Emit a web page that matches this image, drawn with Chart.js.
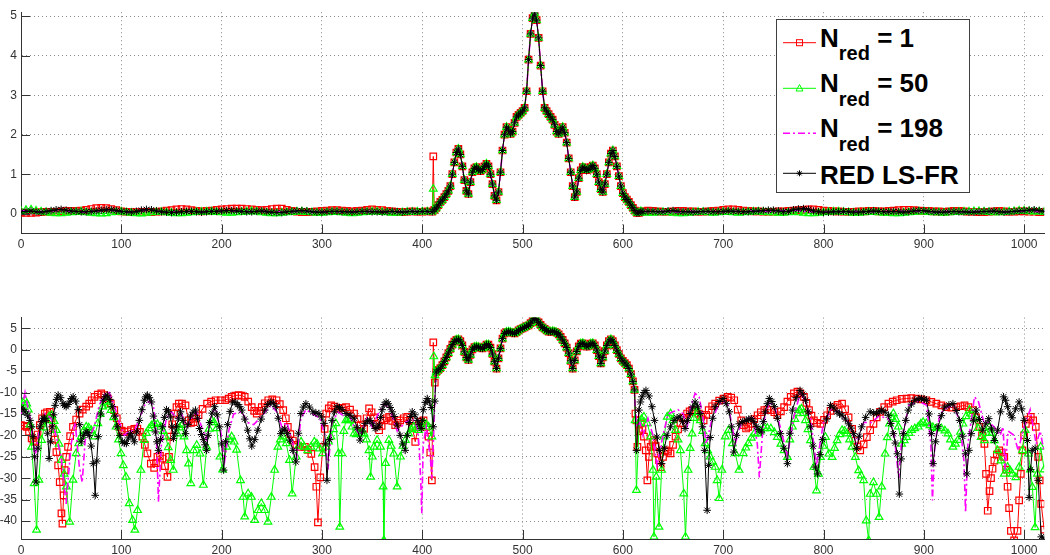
<!DOCTYPE html>
<html><head><meta charset="utf-8">
<script src="https://cdn.jsdelivr.net/npm/chart.js@4.4.1/dist/chart.umd.min.js"></script>
<style>
html,body{margin:0;padding:0;background:#fff;width:1050px;height:555px;overflow:hidden;}
#c1{position:absolute;left:0;top:0;}
#c2{position:absolute;left:0;top:300px;}
#leg{position:absolute;left:0;top:0;}
</style></head><body>
<canvas id="c1" width="1050" height="260"></canvas>
<canvas id="c2" width="1050" height="255"></canvas>
<svg id="leg" width="1050" height="260" xmlns="http://www.w3.org/2000/svg">
  <rect x="776.5" y="19.5" width="193" height="173" fill="#fff" stroke="#404040" stroke-width="1"/>
  <g font-family="'Liberation Sans', Arial, sans-serif" font-weight="bold" font-size="26" fill="#000" style="white-space:pre">
    <line x1="783" y1="42.7" x2="816" y2="42.7" stroke="#ff0000" stroke-width="1"/>
    <rect x="796.5" y="39.7" width="6" height="6" fill="none" stroke="#ff0000" stroke-width="1"/>
    <text x="820" y="46.7">N<tspan font-size="20" dy="13.3">red</tspan><tspan dy="-13.3"> = 1</tspan></text>
    <line x1="783" y1="88.3" x2="816" y2="88.3" stroke="#00ff00" stroke-width="1"/>
    <polygon points="799.5,84.5 803,91 796,91" fill="none" stroke="#00ff00" stroke-width="1"/>
    <text x="820" y="92.3">N<tspan font-size="20" dy="13.3">red</tspan><tspan dy="-13.3"> = 50</tspan></text>
    <line x1="783" y1="133.3" x2="816" y2="133.3" stroke="#ff00ff" stroke-width="1.5" stroke-dasharray="7,3,2,3"/>
    <text x="820" y="137.3">N<tspan font-size="20" dy="13.3">red</tspan><tspan dy="-13.3"> = 198</tspan></text>
    <line x1="783" y1="173.3" x2="816" y2="173.3" stroke="#000" stroke-width="1"/>
    <path d="M799.5 170.3 V176.3 M796.5 173.3 H802.5 M797.4 171.2 L801.6 175.4 M801.6 171.2 L797.4 175.4" stroke="#000" stroke-width="1"/>
    <text x="820" y="184">RED LS-FR</text>
  </g>
</svg>
<script>
// ---------- tick labels ----------
const xTicks = [0, 100, 200, 300, 400, 500, 600, 700, 800, 900, 1000];
const topYTicks = [0, 1, 2, 3, 4, 5];
const botYTicks = [-40, -35, -30, -25, -20, -15, -10, -5, 0, 5];

// ---------- top plot (linear magnitude) ----------
const topLeftX5 = [0,5,10,15,20,25,30,35,40,45, 50,55,60,65,70,75,80,85,90,95, 100,105,110,115,120,125,130,135,140,145, 150,155,160,165,170,175,180,185,190,195, 200,205,210,215,220,225,230,235,240,245, 250,255,260,265,270,275,280,285,290,295, 300,305,310,315,320,325,330,335,340,345, 350,355,360,365,370,375,380,385,390,395, 400,405];
const topRightX5 = [620,625,630,635,640,645,650,655,660,665, 670,675,680,685,690,695,700,705,710,715, 720,725,730,735,740,745,750,755,760,765, 770,775,780,785,790,795,800,805,810,815, 820,825,830,835,840,845,850,855,860,865, 870,875,880,885,890,895,900,905,910,915, 920,925,930,935,940,945,950,955,960,965, 970,975,980,985,990,995,1000,1005,1010,1015, 1020];
const topLeftX10 = [0,10,20,30,40,50,60,70,80,90,100,110,120,130,140,150,160,170,180,190,200,210,220,230,240,250,260,270,280,290,300,310,320,330,340,350,360,370,380,390,400];
const topRightX10 = [620,630,640,650,660,670,680,690,700,710,720,730,740,750,760,770,780,790,800,810,820,830,840,850,860,870,880,890,900,910,920,930,940,950,960,970,980,990,1000,1010,1020];

const redTopL = [0.03,0.02,0.02,0.03,0.04,0.05,0.05,0.05,0.06,0.07, 0.07,0.07,0.08,0.10,0.12,0.14,0.15,0.14,0.12,0.09, 0.06,0.05,0.04,0.04,0.05,0.05,0.04,0.05,0.06,0.08, 0.09,0.11,0.12,0.11,0.09,0.07,0.06,0.07,0.08,0.10, 0.11,0.12,0.13,0.13,0.13,0.12,0.11,0.10,0.09,0.10, 0.12,0.13,0.13,0.10,0.07,0.05,0.04,0.04,0.05,0.06, 0.07,0.08,0.09,0.09,0.08,0.07,0.06,0.07,0.08,0.10, 0.11,0.10,0.09,0.07,0.06,0.05,0.04,0.05,0.06,0.05, 0.05,0.06];
const greenTopL = [0.06,0.09,0.10,0.07,0.05,0.03,0.02,0.01,0.01,0.02, 0.03,0.04,0.05,0.03,0.02,0.01,0.00,0.01,0.03,0.04, 0.05,0.03,0.02,0.01,0.00,0.02,0.03,0.04,0.04,0.03, 0.02,0.01,0.01,0.02,0.03,0.04,0.04,0.05,0.05,0.04, 0.03,0.02,0.02,0.03,0.04,0.05,0.06,0.05,0.03,0.02, 0.01,0.01,0.02,0.03,0.04,0.05,0.05,0.04,0.03,0.02, 0.02,0.03,0.04,0.04,0.03,0.02,0.01,0.02,0.03,0.04, 0.05,0.05,0.04,0.03,0.02,0.02,0.03,0.04,0.04,0.05, 0.05,0.05];
const blackTopL = [0.05,0.06,0.07,0.05,0.04,0.06,0.08,0.10,0.11,0.09, 0.07,0.06,0.05,0.05,0.06,0.07,0.09,0.10,0.10,0.08, 0.06,0.05,0.04,0.06,0.09,0.11,0.10,0.07,0.05,0.04, 0.03,0.04,0.05,0.06,0.06,0.05,0.04,0.05,0.06,0.06, 0.07,0.08,0.08,0.07,0.06,0.05,0.05,0.06,0.07,0.05, 0.04,0.03,0.03,0.05,0.06,0.07,0.08,0.07,0.05,0.04, 0.04,0.05,0.06,0.06,0.05,0.05,0.04,0.05,0.06,0.06, 0.05,0.05,0.04,0.05,0.06,0.05,0.04,0.05,0.06,0.05, 0.06,0.06];
const magTopL = [0.08,0.06,0.04,0.07,0.09,0.06,0.04,0.05,0.08,0.09,0.05,0.04,0.08,0.09,0.05,0.04,0.05,0.06,0.05,0.06,0.06,0.07,0.06,0.05,0.06,0.05,0.04,0.05,0.07,0.05,0.04,0.05,0.05,0.04,0.05,0.06,0.05,0.05,0.05,0.06,0.05];

const redTopR = [0.06,0.08,0.07,0.06,0.05,0.05,0.06,0.07,0.07,0.06, 0.06,0.05,0.05,0.06,0.07,0.08,0.10,0.11,0.11,0.10, 0.08,0.07,0.06,0.06,0.05,0.05,0.05,0.06,0.06,0.07, 0.08,0.09,0.10,0.11,0.11,0.10,0.08,0.07,0.06,0.06, 0.05,0.05,0.05,0.06,0.06,0.07,0.07,0.06,0.06,0.07, 0.08,0.09,0.10,0.10,0.09,0.08,0.07,0.07,0.06,0.06, 0.05,0.06,0.07,0.07,0.06,0.05,0.05,0.04,0.04,0.05, 0.06,0.07,0.06,0.05,0.05,0.06,0.06,0.05,0.05,0.04, 0.04];
const greenTopR = [0.03,0.02,0.02,0.03,0.04,0.03,0.02,0.01,0.01,0.02, 0.03,0.04,0.04,0.03,0.02,0.03,0.04,0.04,0.03,0.02, 0.03,0.04,0.05,0.05,0.04,0.03,0.03,0.02,0.02,0.03, 0.04,0.03,0.02,0.01,0.01,0.02,0.03,0.04,0.05,0.05, 0.04,0.03,0.02,0.02,0.03,0.04,0.04,0.03,0.02,0.02, 0.01,0.01,0.02,0.03,0.04,0.05,0.05,0.04,0.03,0.03, 0.02,0.03,0.04,0.04,0.05,0.05,0.06,0.06,0.05,0.04, 0.03,0.03,0.04,0.05,0.06,0.07,0.07,0.06,0.05,0.05, 0.04];
const blackTopR = [0.05,0.06,0.06,0.05,0.05,0.07,0.08,0.06,0.05,0.05, 0.04,0.05,0.06,0.06,0.05,0.05,0.06,0.07,0.06,0.06, 0.05,0.05,0.06,0.07,0.08,0.09,0.09,0.07,0.05,0.06, 0.10,0.12,0.13,0.11,0.07,0.05,0.04,0.04,0.05,0.05, 0.06,0.05,0.04,0.04,0.05,0.06,0.07,0.06,0.05,0.05, 0.06,0.05,0.04,0.05,0.07,0.08,0.08,0.06,0.05,0.04, 0.04,0.05,0.06,0.05,0.05,0.04,0.04,0.05,0.06,0.06, 0.07,0.05,0.04,0.05,0.06,0.07,0.08,0.09,0.10,0.08, 0.06];
const magTopR = [0.06,0.05,0.06,0.04,0.05,0.06,0.05,0.06,0.05,0.06,0.05,0.07,0.06,0.05,0.08,0.1,0.06,0.05,0.05,0.06,0.05,0.06,0.05,0.05,0.06,0.05,0.06,0.07,0.05,0.05,0.06,0.05,0.05,0.06,0.05,0.06,0.05,0.06,0.07,0.06,0.05];

// main lobe (identical for all four curves), x = 410 ... 618
const topCenterX = [410,412,414,416,418,420,422,424,426,428, 430,432,434,436,438,440,442,444,446,448, 450,452,454,456,458,460,462,464,466,468, 470,472,474,476,478,480,482,484,486,488, 490,492,494,496,498,500,502,504,506,508, 510,512,514,516,518,520,522,524,526,528, 530,532,534,536,538,540,542,544,546,548, 550,552,554,556,558,560,562,564,566,568, 570,572,574,576,578,580,582,584,586,588, 590,592,594,596,598,600,602,604,606,608, 610,612,614,616,618];
const topCenterY = [0.05,0.10,0.15,0.22,0.30,0.35,0.42,0.50,0.58,0.70, 1.00,1.30,1.55,1.64,1.50,1.20,0.85,0.58,0.50,0.80, 1.05,1.15,1.18,1.12,1.08,1.12,1.20,1.26,1.20,1.00, 0.75,0.45,0.34,0.55,1.05,1.60,2.00,2.19,2.12,2.02, 2.08,2.30,2.45,2.50,2.55,2.60,2.68,3.10,3.90,4.55, 4.95,5.08,4.90,4.45,3.75,3.10,2.68,2.60,2.52,2.45, 2.38,2.25,2.08,2.02,2.12,2.19,2.05,1.80,1.40,1.05, 0.70,0.42,0.55,0.90,1.10,1.18,1.15,1.10,1.12,1.18, 1.22,1.15,1.00,0.80,0.62,0.55,0.75,1.00,1.30,1.52, 1.60,1.45,1.20,0.95,0.70,0.52,0.42,0.36,0.30,0.22, 0.15,0.08,0.02,0.02,0.06];
const redTopSpike   = [[411, 1.45]];
const greenTopSpike = [[411, 0.63]];

// ---------- bottom plot (dB) ----------
const botCenter = [[414,-5.2],[416,-4.7],[418,-4.3],[420,-3.6],[422,-2.7],[424,-1.8],[426,-0.8],[428,0.2],[430,1.2],[432,1.9],
  [434,2.3],[436,2.4],[438,2.0],[440,1.0],[442,-0.5],[444,-1.8],[446,-2.4],[448,-1.2],[450,0.1],[452,0.6],
  [454,0.7],[456,0.6],[458,0.4],[460,0.3],[462,0.7],[464,1.2],[466,1.2],[468,0.5],[470,-1.0],[472,-2.8],
  [474,-4.4],[476,-2.0],[478,0.3],[480,2.6],[482,3.8],[484,4.1],[486,4.2],[488,4.1],[490,3.9],[492,3.8],
  [494,4.1],[496,4.5],[498,4.8],[500,5.0],[502,5.2],[504,5.5],[506,5.7],[508,6.2],[510,6.9],[512,7.3],
  [514,7.0],[516,6.4],[518,5.8],[520,5.2],[522,4.9],[524,4.5],[526,4.2],[528,4.2],[530,4.3],[532,4.2],
  [534,4.0],[536,3.6],[538,3.0],[540,2.3],[542,1.5],[544,0.5],[546,-0.8],[548,-2.6],[550,-4.4],[552,-2.5],
  [554,-0.4],[556,0.8],[558,1.4],[560,1.5],[562,1.2],[564,0.7],[566,0.9],[568,1.4],[570,1.5],[572,1.0],
  [574,-0.1],[576,-1.5],[578,-3.2],[580,-1.8],[582,-0.3],[584,1.0],[586,2.0],[588,2.4],[590,2.0],[592,1.0],
  [594,-0.1],[596,-1.0],[598,-2.0],[600,-2.6],[602,-3.1],[604,-3.6],[606,-4.4],[608,-5.7],[610,-7.4],[611.6,-9.4]];

const redBot = [[0,-17.6],[3,-17.8],[5.6,-18],[8,-19.2],[10.6,-20.7],[12.5,-21.3],[14.5,-21.5],[16.5,-19.8],[18.8,-17.6],[21,-16],[23.8,-14.9],[26,-14.6],[28.7,-14.5],[30.5,-16],[32,-18.4],[33.8,-21],[35.3,-23.9],[37,-27],[38.6,-30.9],[40.3,-38.2],[41.3,-40.6],[42.5,-34],[43.6,-28.1],[45,-25],[46.9,-22.7],[49,-20.2],[51.8,-18],[55,-16.3],[58.4,-14.9],[61.5,-14],[65,-13.3],[68,-12.6],[70.5,-11.8],[73.3,-11],[76.5,-10.5],[80,-10.2],[83,-10.6],[86.5,-11.4],[89.5,-12.6],[93,-14.1],[95.5,-16],[98,-18],[100.5,-18.9],[103,-19.2],[106,-19.1],[109.6,-18.8],[113,-18.5],[116,-18.4],[118.5,-19.2],[121,-20.3],[123.5,-22.2],[126,-24.2],[129.4,-26.6],[132.7,-27.6],[134.5,-26.5],[136,-25],[138.5,-24.8],[141,-25.4],[143.5,-27.2],[146,-29.7],[147.5,-25],[149,-20.3],[150.8,-17.4],[152.5,-14.9],[155,-13.4],[157.4,-12.6],[160.5,-12.6],[164,-13],[167,-16.5],[169.5,-17.1],[172,-16.9],[174.5,-16.1],[177,-15.3],[181,-13.8],[185.5,-12.6],[189.5,-12.1],[194,-11.8],[199,-11.8],[203.6,-11.8],[207,-11.4],[210,-11],[213.5,-10.7],[217,-10.6],[220,-10.7],[223,-11],[226.5,-12.1],[230,-13.4],[232.5,-14.3],[235,-14.9],[237.5,-14.3],[240,-13.4],[243,-12.5],[246.5,-11.8],[250.5,-11.6],[254.8,-11.8],[258,-12.7],[261.4,-14.1],[264,-16],[266,-18],[268.5,-19.7],[271,-21.2],[274.5,-22.2],[278,-22.7],[283,-22.7],[286,-23.4],[289.4,-24.3],[292.7,-27.4],[294.4,-32],[296,-40.3],[298.3,-29.8],[301,-22.7],[302.7,-18.5],[304.3,-14.9],[306.8,-13.7],[309.2,-13],[312.5,-13.3],[315.8,-13.8],[320,-13.6],[324,-13.4],[328,-14],[332,-14.9],[335.5,-16.2],[338.6,-17.6],[342,-18.5],[344.5,-16],[347,-13.7],[349.5,-14.6],[352,-15.8],[354.5,-17.4],[357,-18.8],[359.5,-17.8],[362,-16.5],[364.5,-16],[367,-15.7],[370,-16.6],[373,-17.6],[375.5,-17.1],[378,-16.5],[381.5,-16],[385,-15.7],[387.5,-16.6],[390,-18],[393,-21.5],[396.4,-17.6],[398.8,-16.8],[401.3,-16.5],[404,-18],[406.3,-20.3],[408,-24],[409.6,-30.5],[411,1.7],[412.5,-7.7],
  [612.5,-14.9],[613.5,-16.5],[614.5,-22.7],[616,-19],[617.8,-17.2],[619.5,-18.5],[621,-20.3],[622.8,-23.5],[624.4,-30.5],[626,-25],[627.7,-22.7],[629.5,-21.5],[631,-21.1],[632.7,-22.5],[634.3,-24.2],[636,-25.8],[637.6,-27.4],[640,-25],[642.6,-23.5],[645,-23.8],[647.5,-24.2],[650,-22.2],[652.5,-20.3],[655,-18.6],[657.4,-17.2],[660.5,-15.9],[664,-14.9],[666.5,-14.4],[669,-14.1],[672.3,-14.3],[675.6,-14.9],[678,-15.6],[680.5,-16.5],[683,-15.2],[685.5,-14.1],[689,-13.2],[692,-12.6],[696,-11.9],[700.3,-11.4],[704.6,-11],[708,-11.2],[711,-11.8],[714.5,-14],[718,-16.5],[720.5,-17.6],[722.8,-18.4],[725,-18],[727.7,-17.3],[731,-16.2],[734.3,-15.3],[737.5,-14.6],[741,-14.1],[744,-14],[747.5,-14.1],[751,-14.6],[754,-15.3],[757.5,-14.4],[760.7,-13.4],[764,-12.1],[767.3,-11],[770.5,-10.2],[774,-9.8],[777,-10.2],[780.5,-11],[783,-12.4],[785.5,-14.1],[788,-15.4],[790.4,-16.5],[793.5,-17.1],[797,-17.3],[800.5,-16.4],[803.6,-15.3],[807,-14.3],[810.2,-13.4],[814,-12.9],[818.5,-12.6],[821.5,-13.9],[825,-15.8],[828.5,-18.5],[831.7,-21.2],[834,-22.6],[836.6,-23.5],[840,-22.1],[843.2,-20.4],[846.5,-18.8],[849.8,-17.3],[853,-15.8],[856.4,-14.5],[860.5,-13.4],[864.7,-12.6],[869,-12.1],[873,-11.8],[878,-11.5],[882.8,-11.4],[887.5,-11.3],[892.7,-11.4],[897.5,-11.6],[902.6,-11.8],[907.5,-12.2],[912.5,-12.6],[917.5,-13],[922.4,-13.4],[927.5,-13.5],[932.3,-13.4],[936.5,-13.2],[940.6,-13],[944.5,-13.4],[948.8,-14.1],[952,-15.8],[955.4,-18],[958,-20],[960.4,-22],[962,-29],[963.7,-37.6],[965.5,-33],[967,-30],[968.5,-27.8],[970.3,-25.9],[972.8,-24.5],[975.2,-23.5],[977.7,-24],[980.2,-25],[982,-28],[983.5,-32],[985,-37],[986.8,-42.3],[990,-44.5],[993.4,-42.3],[995,-35.2],[996.7,-29],[998.3,-23.5],[1000,-20],[1001.7,-17.3],[1004,-16.3],[1006.6,-15.7],[1009,-16.5],[1011.6,-18],[1013.9,-25],[1015.5,-30.5],[1017,-36],[1020,-42]];

const greenBot = [[0,-13.3],[2,-12.3],[4,-11.8],[5.7,-12.6],[7.3,-14],[9,-17.5],[10.6,-22.7],[13.2,-31.2],[15.5,-42.1],[17.8,-30.4],[20.5,-21.1],[23,-18.2],[25.4,-16.5],[28,-15.6],[30.4,-15.3],[33,-16.7],[35.3,-18.8],[38,-22],[40.3,-25.8],[43,-29],[45.2,-32],[48.5,-40.2],[51.8,-30.4],[55,-24.2],[57.5,-21.9],[60,-20.3],[62.5,-18.9],[65,-18],[67.5,-18.2],[70,-18.8],[73.3,-20.3],[76.6,-17.2],[79,-15],[81.5,-13.3],[84.8,-12.2],[87.3,-12.9],[89.8,-14.1],[92.3,-15.8],[94.7,-18],[97.2,-21],[99.7,-24.2],[102,-27],[104.6,-29.7],[107.9,-35.9],[111.2,-39.8],[113.5,-42.1],[116.2,-37.5],[119.5,-28.1],[122.8,-21.1],[125,-19.5],[127.7,-18.4],[130,-17.7],[132.7,-17.2],[136,-17.4],[139.3,-18],[141.8,-19],[144.2,-20.3],[146.8,-22.8],[149.2,-25.8],[151.8,-28.1],[155.8,-19.6],[158,-18.2],[160.7,-17.6],[162.5,-20.3],[165,-23.5],[167,-26.6],[169.3,-31.2],[172,-23.5],[175.2,-22.3],[178.5,-24.3],[181.8,-31.6],[185,-22.7],[187.5,-18.5],[190,-16.5],[192.5,-17],[195,-18.4],[198.3,-25],[201,-28],[205,-22.7],[207.5,-21],[210,-20.3],[212.5,-21.5],[214.9,-23.4],[218.8,-30.5],[221.5,-34.4],[223,-39],[226.4,-33.6],[229.7,-34.4],[233,-39.8],[236.3,-37.5],[239.6,-35.9],[242.9,-37.5],[246.2,-40.2],[249.5,-34.4],[252.8,-28.1],[256.1,-22.7],[258.5,-21],[261,-20.3],[264.4,-21.9],[267.7,-25.8],[270.3,-33.6],[274.3,-25],[276.8,-22.5],[279.2,-21.5],[282.5,-22.7],[285.8,-23.5],[289.1,-22.7],[292.4,-21.5],[295,-22],[297.4,-23.1],[300.7,-24.2],[304,-22.7],[306.5,-21.5],[308.9,-20.3],[311.5,-18.6],[313.9,-17.2],[316.5,-24.2],[317.8,-41.4],[319.8,-24.2],[321.8,-19],[323.8,-16.5],[326,-16.2],[328,-16.5],[330,-18],[332,-19.6],[334.5,-19.8],[337,-19.6],[339.5,-19.5],[342,-19.6],[344.5,-21],[346.9,-23.5],[348.5,-29.7],[350.2,-25],[351.8,-22.7],[355,-21.1],[358.4,-22.7],[361,-32],[361.7,-44.5],[363.4,-26.5],[366.7,-21.1],[369,-22.5],[371.6,-24.3],[374.9,-32],[378.2,-25],[380.7,-22.5],[383.2,-21.1],[386.5,-19.6],[389,-18.6],[391.4,-18],[394,-18.3],[396.4,-18.8],[399,-18],[401.3,-17.2],[403.8,-17.4],[406.3,-18],[409.6,-20.3],[411.5,-1.6],[412.7,-6],
  [612.2,-16.5],[613.5,-32.8],[616.2,-17.2],[618.5,-16.2],[621,-15.7],[624.4,-17.2],[627.7,-20.3],[630,-28.1],[631,-43.7],[633.3,-29.7],[636,-41.4],[638.6,-28.1],[641,-20.3],[644.2,-15.7],[647.5,-14.9],[650,-16.5],[652.5,-18.8],[655,-21],[657.4,-23.5],[660.7,-33.6],[662.4,-43.7],[665,-28.1],[667,-23],[669,-19.6],[670.7,-16],[672.3,-13.3],[674.7,-14.6],[677.2,-16.5],[679.6,-19],[682,-21.9],[684.5,-23.5],[687,-25],[689.5,-26.2],[692,-27.4],[694,-30.5],[696,-34.7],[698.7,-28.1],[702,-20.3],[705.3,-18.8],[709.2,-21.9],[712,-24.2],[715.8,-28.1],[720,-24.2],[722.5,-22.9],[725,-21.9],[728,-20.6],[731,-19.6],[734.3,-19.6],[737.5,-18.9],[741,-18.4],[744,-18.3],[747.5,-18.4],[751,-19.3],[754,-20.4],[757.5,-22],[760.7,-23.5],[764,-25.1],[766.5,-21],[769,-18],[771.5,-16.2],[774,-14.9],[776,-14.1],[778,-13.8],[780,-14.8],[782,-16.5],[784.5,-18.6],[787,-21.2],[790.4,-27.4],[793,-32.9],[795,-29],[797,-25.1],[799.5,-22.5],[802,-20.4],[805.3,-24.3],[808.6,-25.1],[811,-23],[813.5,-21.2],[816,-19.8],[818.5,-18.8],[821,-19],[823.4,-19.6],[826,-21],[828.4,-22.7],[831.7,-25.1],[835,-28.2],[837.5,-29.4],[840,-30.5],[842.6,-39.9],[845,-44.5],[846.5,-33.7],[849.8,-31],[853,-33.7],[855.4,-39.1],[858,-32],[861.4,-24.3],[863.5,-20.5],[865.7,-17.3],[867.5,-15.8],[869.6,-14.9],[872,-16.2],[874.6,-18],[877.9,-22],[880.5,-21.2],[882.8,-20.4],[885.3,-19.5],[887.8,-18.8],[891,-18.4],[894.4,-18],[897,-17.3],[899.3,-16.9],[902.5,-17.2],[906,-17.7],[909,-18.1],[912.5,-18.4],[917.5,-18.4],[921,-18.9],[924.1,-19.6],[926.5,-21],[929,-22.7],[931.5,-22],[934,-21.1],[936.5,-19.2],[939,-17.3],[942,-15.6],[945.5,-14.1],[948,-15],[950.5,-16.1],[954,-18.3],[957.1,-20.4],[960.4,-21.2],[962.8,-19.5],[965.3,-18],[967.8,-19.5],[970.3,-21.2],[973.5,-23.5],[976.9,-25.9],[980.2,-29],[983.5,-27.4],[986,-28.2],[988.4,-29],[991.7,-29.8],[995,-27.4],[998.3,-23.5],[1001,-18.8],[1004.2,-24.3],[1006.2,-28],[1008.2,-32.1],[1010.9,-41.5],[1013.2,-29],[1016.5,-22.7],[1020,-28]];

const magBot = [[0,-15],[4,-10],[9,-16],[14,-25],[19,-18],[24,-15],[30,-16],[35,-20],[40,-25],[45,-36],[50,-22],[54,-17],[58,-27],[61,-31],[64,-21],[69,-20],[73,-18],[78,-13],[83,-10.5],[88,-10],[93,-13],[98,-17],[103,-20],[108,-19],[113,-19],[118,-16],[123,-13],[128,-12],[132,-13],[135,-20],[137,-35.5],[140,-22],[145,-16],[150,-14.5],[155,-16],[160,-15],[165,-18],[170,-16],[175,-14.5],[180,-18],[185,-21],[190,-15],[194,-13.5],[199,-19],[203,-26],[207,-19],[212,-15],[220,-14.5],[226,-17],[232,-17.5],[240,-15.5],[249,-13],[255,-14.5],[260,-18],[265,-17],[270,-21],[275,-25],[279,-16],[284,-14],[291,-15],[298,-16],[303,-20],[306,-28],[310,-17],[316,-14.5],[322,-15.5],[327,-15],[332,-18],[338,-20],[345,-16],[350,-18],[356,-15],[362,-12.6],[368,-14],[375,-19],[383,-17],[390,-16],[395,-18],[397,-23],[398.7,-32],[399.5,-38.2],[401,-22],[404,-18],[408,-25],[409.5,-30],[411,-22],[413,-9],
  [612,-13],[614,-18],[617,-17],[620,-20],[625,-16],[630,-20],[634,-27],[640,-20],[645,-15],[650,-14.5],[655,-14],[660,-15],[664,-18],[668,-13],[672,-10.2],[676,-11],[680,-16],[683,-22],[688,-17],[695,-13],[700,-12],[705,-13],[709,-18],[712,-22],[718,-17],[725,-16],[730,-16],[734,-22],[736,-29.8],[740,-17],[746,-12],[752,-14],[758,-19],[764,-25],[770,-16],[777,-10],[782,-12],[787,-16],[793,-27],[800,-17],[808,-14],[815,-14.5],[825,-17],[833,-22],[840,-17],[848,-17],[855,-15.5],[864,-16],[870,-19],[875,-30],[878,-21],[885,-13],[895,-12],[903,-13],[907,-22],[908.6,-35.2],[911,-22],[916,-15],[923,-13.5],[930,-13],[936,-17],[940,-26],[941.6,-38],[944,-22],[950.5,-11],[954.5,-12.2],[960,-17],[965,-17],[970,-18],[976,-20],[979,-18],[981,-28],[984,-19],[990,-20],[994,-23.5],[1000,-18],[1006,-14],[1012,-22],[1016,-19],[1020,-24]];

const blackBot = [[0,-13.6],[2,-14],[4,-14.5],[6.5,-15.3],[9,-16.5],[10.5,-18],[12,-20.3],[13.5,-25],[15,-30.9],[17,-23],[19,-18],[20.5,-16.8],[22,-16],[23.5,-16],[25,-16.5],[26.5,-19.5],[28,-25.4],[29.5,-21.5],[31,-18],[32.5,-15.2],[34,-13],[35.5,-11.6],[37,-10.6],[39.5,-11.2],[42,-12.6],[43.5,-13],[45,-13.3],[47,-12.8],[49,-12],[50.5,-11.4],[52,-11],[54.5,-12],[57,-14],[58.5,-17.5],[60,-21.5],[62.5,-20],[65,-19.2],[66.5,-19.4],[68,-20],[70,-22.5],[72,-26.6],[74,-34],[75.5,-26],[77,-20.3],[79.5,-15],[82,-11.8],[84,-11],[86,-10.6],[88.5,-11.6],[91,-13.3],[93.5,-15.5],[96,-18],[98.5,-20],[101,-21.5],[103,-21.8],[105,-21.9],[107,-20.6],[109,-19.6],[111,-20.4],[113,-21.5],[115.5,-19.2],[118,-16.5],[120.5,-14],[123,-11.8],[124.5,-11],[126,-10.6],[128,-11.2],[130,-12.2],[132,-15.5],[134,-19.2],[135.5,-21.5],[137,-23.5],[139,-21],[141,-18],[143,-15.8],[145,-14],[147,-14.5],[149,-15.7],[150.5,-18],[152,-20.7],[153.5,-19.5],[155,-18],[157,-16],[159,-14.5],[161.5,-16.5],[164,-19.6],[166.5,-17.5],[169,-15.5],[171.5,-14.6],[174,-14.1],[176,-16],[178,-18.4],[180,-19.8],[182,-21],[183.5,-22.2],[185,-23.5],[186.5,-20],[188,-17],[190.5,-14.8],[193,-13.3],[195.5,-15.2],[198,-18],[200,-22],[202,-28.1],[204,-21.5],[206,-17.5],[208.5,-14.4],[211,-12.2],[213.5,-12.3],[216,-12.8],[218,-13.3],[220,-14.1],[223,-16.2],[226,-18.8],[228,-20.8],[230,-22.5],[233,-21],[236,-18.8],[239.5,-16.2],[243,-14.1],[246,-12.8],[249,-12.2],[251.5,-12.5],[254,-13.3],[256.5,-16],[259,-19.6],[261,-18.8],[263,-18.5],[265.5,-19.6],[268,-21.1],[271,-23.5],[274,-26.2],[276.5,-19.5],[279,-14.9],[281.5,-13.4],[284,-12.6],[287.5,-13.4],[291,-14.5],[294,-14.8],[297,-14.9],[299.5,-15.7],[302,-17.2],[303.5,-22],[305,-30.5],[307.5,-21],[310,-16.5],[312.5,-14.5],[315,-13.3],[317.5,-13.5],[320,-14],[324,-14.9],[328,-15.3],[332,-16],[335,-18.2],[338,-21.1],[340.5,-19],[343,-17.2],[345.5,-16.6],[348,-16.5],[350.5,-17.3],[353,-18.4],[355,-18.2],[357,-17.6],[358.5,-15.8],[360,-14],[362,-12.8],[364,-12.2],[366,-12.6],[368,-13.5],[370,-14.5],[372,-15.6],[375,-17.6],[378,-20],[380.5,-22],[383,-23.5],[385,-20],[387,-17],[388.5,-15.6],[390,-14.5],[392.5,-15.2],[395,-16.5],[397,-17.5],[399,-18.4],[400,-16.5],[401,-14],[403,-12.3],[405,-11.4],[407,-12.2],[409,-13.5],[411,-18],[412.5,-12],
  [613.5,-23.5],[616,-14.1],[617.5,-12.2],[619,-11],[621,-10],[623,-9.5],[626,-10.8],[629,-13.3],[631.5,-16.5],[634,-20.4],[636.3,-23.5],[638.6,-26.6],[641.3,-23],[644,-20],[647.5,-18],[651,-16.5],[654,-15.9],[657,-15.7],[659.5,-16.8],[662,-18.4],[664.5,-16.5],[667,-14.9],[669.5,-13.4],[672,-12.2],[674.5,-13.2],[677,-14.9],[679.3,-18],[681.5,-23.5],[684,-37.5],[685.5,-27],[687,-20.5],[689.5,-16],[692,-13.3],[696,-12.1],[700,-11.4],[703,-12.6],[706,-14.5],[708.3,-18],[710.5,-23.9],[713.3,-20],[716,-17.3],[719.5,-16.8],[723,-16.5],[725.5,-16.2],[728,-16.1],[730.5,-16.8],[733,-17.9],[735.5,-18.6],[738,-19.2],[740,-16.8],[742,-14.5],[744,-12.6],[746,-11.4],[748.5,-12.1],[751,-13.3],[754,-16],[757,-19.6],[760.5,-23],[764,-26.6],[766.5,-19.5],[769,-14.1],[772.8,-11.2],[776.6,-9.5],[779.3,-10.4],[782,-11.8],[784.5,-14.5],[787,-18],[789.5,-22.5],[792,-27.4],[794,-29],[796.5,-24.5],[799,-21],[803,-16.2],[807,-13],[810.3,-13.6],[813.5,-14.5],[816,-15],[818.5,-15.3],[821.8,-16.2],[825,-17.3],[827.5,-18.3],[830,-19.6],[833,-23.1],[835.5,-20.2],[838,-18],[842,-15.8],[846.5,-14.5],[850,-14.8],[853,-14.9],[855.5,-14.4],[858,-14.1],[861.5,-14.6],[864.7,-15.3],[867,-17.2],[869.6,-19.6],[871.6,-21.8],[873.6,-24.3],[875.6,-33.7],[877.5,-25.5],[879.5,-19.6],[882,-16.5],[884.5,-14.1],[887.7,-12.7],[891,-11.8],[894.5,-11.5],[897.7,-11.4],[900.2,-11.5],[902.6,-11.8],[905.2,-15],[907.6,-19.6],[909.2,-26.6],[911.7,-21.5],[914.2,-18],[917.5,-15.4],[920.8,-13.4],[925,-12.9],[929,-12.6],[932.3,-14.2],[935.6,-16.5],[938.6,-20.2],[941.6,-24.3],[942.9,-29],[945,-23.5],[947.2,-19.6],[949.6,-16.6],[952.1,-14.1],[955.4,-16.3],[958.7,-18.8],[961.7,-17.3],[964.7,-16.1],[967.5,-18.5],[970.3,-21.2],[973.6,-18.8],[976.5,-14.5],[979.5,-11],[981.5,-11.8],[983.5,-13.3],[986,-15],[988,-15.9],[991.5,-13.8],[995,-12.2],[997.5,-13.8],[1000,-16.5],[1003.3,-21.2],[1005,-34.5],[1006.5,-28],[1008,-23.5],[1011,-23],[1014,-30.5],[1017,-43.7],[1020,-44]];

// ---------- helpers ----------
const zip = (xs, ys) => xs.slice(0, Math.min(xs.length, ys.length)).map((x, i) => ({x, y: ys[i]}));
const pairs = arr => arr.map(p => ({x: p[0], y: p[1]}));
const sortX = arr => arr.slice().sort((a, b) => a.x - b.x);
const topCenter = zip(topCenterX, topCenterY);
const topSeries = (lx, L, rx, R, spike) => sortX([...zip(lx, L), ...topCenter, ...(spike ? pairs(spike) : []), ...zip(rx, R)]);
const botSeries = side => sortX([...pairs(side), ...pairs(botCenter)]);

const FONT = "'Liberation Sans', Arial, sans-serif";
const AXIS = '#333333';
const GRID = '#8c8c8c';

const styles = {
  red:   {borderColor: '#ff0000', pointStyle: 'rect', pointRadius: 4.6, pointBorderWidth: 1.2, order: 4},
  green: {borderColor: '#00ff00', pointStyle: 'triangle', pointRadius: 4.4, pointBorderWidth: 1.2, order: 3},
  mag:   {borderColor: '#ff00ff', pointRadius: 0, borderDash: [7, 3, 2, 3], borderWidth: 1.6, order: 2},
  black: {borderColor: '#000000', pointStyle: 'star', pointRadius: 3.8, pointBorderWidth: 1, order: 1}
};
function ds(label, data, st) {
  return Object.assign({
    label, data, borderWidth: 1, tension: 0, fill: false,
    pointBorderColor: st.borderColor, pointBackgroundColor: 'rgba(0,0,0,0)',
    pointBorderWidth: 1, pointHoverRadius: 0
  }, st);
}

const innerTicks = {
  id: 'innerTicks',
  afterDraw(chart) {
    const {ctx, chartArea: a, scales: {x, y}} = chart;
    ctx.save();
    ctx.strokeStyle = AXIS; ctx.lineWidth = 1;
    ctx.beginPath();
    x.ticks.forEach(t => { const px = Math.round(x.getPixelForValue(t.value)) + 0.5; ctx.moveTo(px, a.bottom); ctx.lineTo(px, a.bottom - 9); });
    y.ticks.forEach(t => { const py = Math.round(y.getPixelForValue(t.value)) + 0.5; ctx.moveTo(a.left, py); ctx.lineTo(a.left + 9, py); });
    ctx.stroke();
    ctx.restore();
  }
};

function options(yMin, yMax, yTicks, padTop, xAxisH) {
  return {
    responsive: false, animation: false, devicePixelRatio: 1,
    layout: {padding: {top: padTop, left: 0, right: 0, bottom: 0}},
    plugins: {legend: {display: false}, tooltip: {enabled: false}},
    events: [],
    scales: {
      x: {
        type: 'linear', min: 0, max: 1020,
        afterBuildTicks: s => { s.ticks = xTicks.map(v => ({value: v})); },
        afterFit: s => { s.height = xAxisH; },
        grid: {color: GRID, lineWidth: 1, drawTicks: false},
        border: {display: true, color: AXIS, width: 1, dash: [1, 3]},
        ticks: {padding: 4, color: '#333', font: {family: FONT, size: 12}, maxRotation: 0, autoSkip: false, callback: v => String(v)}
      },
      y: {
        type: 'linear', min: yMin, max: yMax,
        afterBuildTicks: s => { s.ticks = yTicks.map(v => ({value: v})); },
        afterFit: s => { s.width = 21; },
        grid: {color: GRID, lineWidth: 1, drawTicks: false},
        border: {display: true, color: AXIS, width: 1, dash: [1, 3]},
        ticks: {padding: 4, color: '#333', font: {family: FONT, size: 12}, autoSkip: false, callback: v => String(v)}
      }
    }
  };
}

new Chart(document.getElementById('c1'), {
  type: 'line',
  data: {datasets: [
    ds('N_red = 1',   topSeries(topLeftX5, redTopL, topRightX5, redTopR, redTopSpike), styles.red),
    ds('N_red = 50',  topSeries(topLeftX5, greenTopL, topRightX5, greenTopR, greenTopSpike), styles.green),
    ds('N_red = 198', topSeries(topLeftX10, magTopL, topRightX10, magTopR, null), styles.mag),
    ds('RED LS-FR',   topSeries(topLeftX5, blackTopL, topRightX5, blackTopR, null), styles.black)
  ]},
  options: options(-0.5, 5.1, topYTicks, 12.2, 26.5),
  plugins: [innerTicks]
});

new Chart(document.getElementById('c2'), {
  type: 'line',
  data: {datasets: [
    ds('N_red = 1',   botSeries(redBot), styles.red),
    ds('N_red = 50',  botSeries(greenBot), styles.green),
    ds('N_red = 198', botSeries(magBot), styles.mag),
    ds('RED LS-FR',   botSeries(blackBot), styles.black)
  ]},
  options: options(-44.2, 7.5, botYTicks, 17.6, 16),
  plugins: [innerTicks]
});
</script>
</body></html>
